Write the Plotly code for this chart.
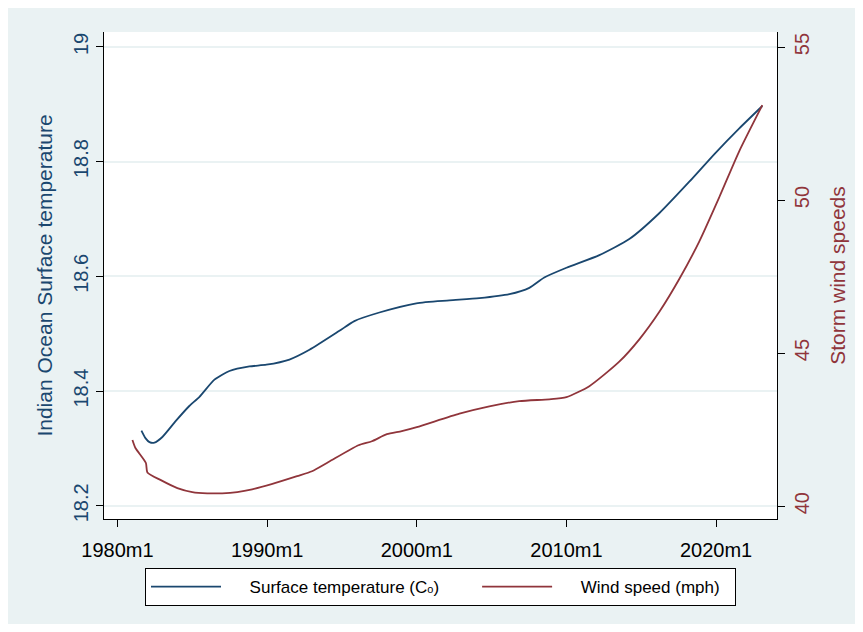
import plotly.graph_objects as go

# Surface temperature (left axis)
temp_year = [1981.6, 1981.87, 1982.14, 1982.47, 1983.0, 1983.9, 1984.8, 1985.48, 1986.48, 1987.48,
             1988.82, 1989.95, 1991.49, 1992.83, 1994.83, 1995.83, 1997.5, 1999.97, 2002.18,
             2004.18, 2006.19, 2007.52, 2008.52, 2010.0, 2012.2, 2014.2, 2016.2, 2018.21,
             2019.95, 2021.55, 2023.09]
temp_val = [18.331, 18.318, 18.311, 18.31, 18.32, 18.348, 18.374, 18.39, 18.42, 18.435,
            18.443, 18.446, 18.455, 18.472, 18.505, 18.522, 18.537, 18.553, 18.558,
            18.562, 18.569, 18.58, 18.598, 18.615, 18.637, 18.665, 18.71, 18.765,
            18.815, 18.858, 18.897]

# Wind speed (right axis)
wind_year = [1981.0, 1981.2, 1981.9, 1982.0, 1982.9, 1984.0, 1985.0, 1986.0, 1987.0, 1988.0,
             1989.0, 1990.3, 1992.0, 1993.0, 1994.1, 1996.1, 1997.0, 1998.0, 1999.0, 2000.0,
             2002.85, 2004.85, 2006.85, 2008.86, 2010.0, 2011.53, 2013.53, 2014.87, 2016.21,
             2017.54, 2018.88, 2020.22, 2021.55, 2023.09]
wind_val = [42.16, 41.9, 41.41, 41.1, 40.85, 40.59, 40.46, 40.42, 40.42, 40.46,
            40.55, 40.72, 40.98, 41.14, 41.44, 41.99, 42.12, 42.35, 42.45, 42.58,
            43.02, 43.26, 43.43, 43.49, 43.56, 43.92, 44.72, 45.45, 46.35,
            47.42, 48.65, 50.1, 51.6, 53.1]

x_tick_vals = [1980, 1990, 2000, 2010, 2020]
x_tick_text = ["1980m1", "1990m1", "2000m1", "2010m1", "2020m1"]
left_ticks = [18.2, 18.4, 18.6, 18.8, 19]
left_tick_text = ["18.2", "18.4", "18.6", "18.8", "19"]
right_ticks = [40, 45, 50, 55]

BLUE = "#1a476f"
RED = "#90353b"
BG = "#eaf2f3"
FONT = "Liberation Sans, Arial, Helvetica, sans-serif"
NB = "\u00a0"

fig = go.Figure()
fig.add_trace(go.Scatter(x=temp_year, y=temp_val, mode="lines",
                         name=NB * 5 + "Surface temperature (C<span style='font-size:11px'>o</span>)" + NB * 7,
                         line=dict(color=BLUE, width=1.8, shape="spline", smoothing=0.6), yaxis="y"))
fig.add_trace(go.Scatter(x=wind_year, y=wind_val, mode="lines",
                         name=NB * 5 + "Wind speed (mph)" + NB * 2,
                         line=dict(color=RED, width=1.8, shape="spline", smoothing=0.6), yaxis="y2"))

W, H = 847, 616
L, R, T, B = 96, 78, 24, 105
pw, ph = W - L - R, H - T - B

def px_x(p):
    return (p - L) / pw

def px_y(p):
    return (H - B - p) / ph

fig.update_layout(
    width=W, height=H,
    margin=dict(l=L, r=R, t=T, b=B, autoexpand=False),
    paper_bgcolor=BG, plot_bgcolor="white",
    font=dict(family=FONT, size=20, color="black"),
    showlegend=True,
    legend=dict(orientation="h", x=px_x(137), xanchor="left", y=px_y(560), yanchor="top",
                bgcolor="white", bordercolor="black", borderwidth=1,
                font=dict(size=17, color="black"),
                itemwidth=70, traceorder="normal"),
    xaxis=dict(range=[1979.1, 2024.07], tickvals=x_tick_vals, ticktext=x_tick_text, automargin=False,
               showgrid=False, zeroline=False, showline=True, linecolor="black", linewidth=1,
               ticks="outside", ticklen=7, tickcolor="black", ticklabelstandoff=6,
               tickfont=dict(size=20, color="black")),
    yaxis=dict(range=[18.177, 19.026], tickvals=left_ticks, ticktext=left_tick_text, tickangle=-90,
               automargin=False,
               showgrid=True, gridcolor=BG, gridwidth=2, zeroline=False,
               showline=True, linecolor="black", linewidth=1, ticks="outside", ticklen=7, tickcolor="black",
               tickfont=dict(size=20, color=BLUE),
               title=dict(text="Indian Ocean Surface temperature", font=dict(size=21, color=BLUE), standoff=11)),
    yaxis2=dict(range=[39.58, 55.49], tickvals=right_ticks, overlaying="y", side="right", tickangle=-90,
                automargin=False,
                showgrid=False, zeroline=False, showline=True, linecolor="black", linewidth=1,
                ticks="outside", ticklen=7, tickcolor="black", tickfont=dict(size=20, color=RED),
                title=dict(text="Storm wind speeds", font=dict(size=21, color=RED), standoff=18)),
)

fig.write_html("out.html")
